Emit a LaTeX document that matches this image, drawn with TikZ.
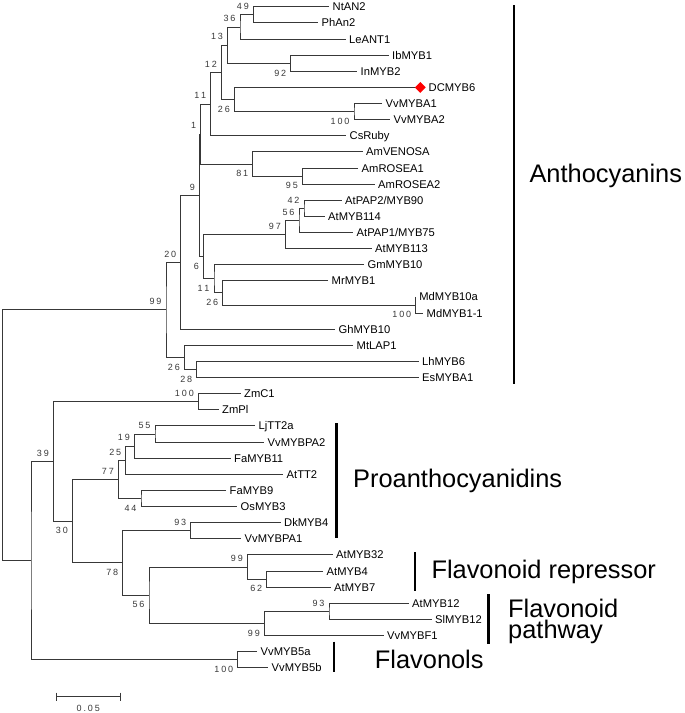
\documentclass[tikz,border=0pt]{standalone}
\usepackage{fontspec}
\setmainfont{Liberation Sans}
\usetikzlibrary{calc,shapes.geometric}
\newcommand\gsp{\kern1.9pt}
\tikzset{
  br/.style={draw=black!78, line width=0.9pt},
  leaf/.style={anchor=west, inner xsep=3.5pt, inner ysep=0pt, text height=8pt, text depth=0pt, font=\fontsize{11.2}{13}\selectfont},
  bsl/.style={anchor=east, inner sep=0pt, text height=6.4pt, text depth=0pt, font=\fontsize{9}{10}\selectfont, text=black!78},
  bar/.style={line width=2.8pt, draw=black},
  grp/.style={anchor=base west, inner sep=0pt, font=\fontsize{25.4}{21}\selectfont},
}
\newcommand\clade[4]{%
  \path ($(#3)!0.5!(#4)$) coordinate (tmpmid) (#2,0) coordinate (xref);
  \coordinate (#1) at (tmpmid -| xref);
  \draw[br] (#3) -| (#1) |- (#4);
}
\newcommand\bu[2]{\node[bsl] (b#1) at ([shift={(-4.3,-8.3)}]#1) {#2};}
\newcommand\bd[2]{\node[bsl] (b#1) at ([shift={(-4.3,9.6)}]#1) {#2};}
\begin{document}
\begin{tikzpicture}[x=1pt,y=-1pt]
\useasboundingbox (0,0) rectangle (685,713);
% leaves
\node[leaf] (L1) at (329,6.8) {NtAN2};
\node[leaf] (L2) at (318,22.92) {PhAn2};
\node[leaf] (L3) at (345.5,39.04) {LeANT1};
\node[leaf] (L4) at (388.5,55.16) {IbMYB1};
\node[leaf] (L5) at (357,71.28) {InMYB2};
\node[diamond, fill=red, inner sep=0pt, minimum width=11pt, minimum height=11pt] (dmark) at (420.3,87.4) {};
\node[leaf, xshift=-1pt] (L6) at (dmark.east) {DCMYB6};
\node[leaf] (L7) at (382,103.52) {VvMYBA1};
\node[leaf] (L8) at (390,119.64) {VvMYBA2};
\node[leaf] (L9) at (346,135.76) {CsRuby};
\node[leaf] (L10) at (362.5,151.88) {AmVENOSA};
\node[leaf] (L11) at (358,168.0) {AmROSEA1};
\node[leaf] (L12) at (374.5,184.12) {AmROSEA2};
\node[leaf] (L13) at (341.5,200.24) {AtPAP2/MYB90};
\node[leaf] (L14) at (324.5,216.36) {AtMYB114};
\node[leaf] (L15) at (353,232.48) {AtPAP1/MYB75};
\node[leaf] (L16) at (371.5,248.6) {AtMYB113};
\node[leaf] (L17) at (364,264.72) {GmMYB10};
\node[leaf] (L18) at (328,280.84) {MrMYB1};
\node[leaf] (L19) at (415.7,296.96) {MdMYB10a};
\node[leaf] (L20) at (423,313.08) {MdMYB1-1};
\node[leaf] (L21) at (335,329.2) {GhMYB10};
\node[leaf] (L22) at (353,345.32) {MtLAP1};
\node[leaf] (L23) at (418.5,361.44) {LhMYB6};
\node[leaf] (L24) at (418.5,377.56) {EsMYBA1};
\node[leaf] (L25) at (240.5,393.68) {ZmC1};
\node[leaf] (L26) at (218.5,409.8) {ZmPl};
\node[leaf] (L27) at (255,425.92) {LjTT2a};
\node[leaf] (L28) at (264,442.04) {VvMYBPA2};
\node[leaf] (L29) at (230.5,458.16) {FaMYB11};
\node[leaf] (L30) at (283,474.28) {AtTT2};
\node[leaf] (L31) at (226,490.4) {FaMYB9};
\node[leaf] (L32) at (237,506.52) {OsMYB3};
\node[leaf] (L33) at (280.5,522.64) {DkMYB4};
\node[leaf] (L34) at (241,538.76) {VvMYBPA1};
\node[leaf] (L35) at (332.5,554.88) {AtMYB32};
\node[leaf] (L36) at (323,571.0) {AtMYB4};
\node[leaf] (L37) at (330.5,587.12) {AtMYB7};
\node[leaf] (L38) at (408.5,603.24) {AtMYB12};
\node[leaf] (L39) at (431.5,619.36) {SlMYB12};
\node[leaf] (L40) at (383.5,635.48) {VvMYBF1};
\node[leaf] (L41) at (257,651.6) {VvMYB5a};
\node[leaf] (L42) at (268,667.72) {VvMYB5b};
% clades
\clade{A49}{253.3}{L1.west}{L2.west}
\clade{A36}{240}{A49}{L3.west}
\clade{A92}{290.7}{L4.west}{L5.west}
\clade{A13}{227.5}{A36}{A92}
\clade{A100a}{354}{L7.west}{L8.west}
\clade{A26}{234.3}{dmark.west}{A100a}
\clade{A12}{221.3}{A13}{A26}
\clade{A11}{210.7}{A12}{L9.west}
\clade{A95}{302.3}{L11.west}{L12.west}
\clade{A81}{252.7}{L10.west}{A95}
\clade{A1}{200.7}{A11}{A81}
\clade{A42}{304}{L13.west}{L14.west}
\clade{A56}{299}{A42}{L15.west}
\clade{A97}{285.3}{A56}{L16.west}
\clade{A100b}{415.7}{L19.west}{L20.west}
\clade{A26c}{222.7}{L18.west}{A100b}
\clade{A11b}{214}{L17.west}{A26c}
\clade{A6}{203.3}{A97}{A11b}
\clade{A9}{199.3}{A1}{A6}
\clade{A20}{180.7}{A9}{L21.west}
\clade{A28}{196.7}{L23.west}{L24.west}
\clade{A26b}{184.3}{L22.west}{A28}
\clade{A99}{166}{A20}{A26b}
\clade{A100c}{198.3}{L25.west}{L26.west}
\clade{A55}{155}{L27.west}{L28.west}
\clade{A19}{134.3}{A55}{L29.west}
\clade{A25}{125.7}{A19}{L30.west}
\clade{A44}{141}{L31.west}{L32.west}
\clade{A77}{118.3}{A25}{A44}
\clade{A93}{190.7}{L33.west}{L34.west}
\clade{A62}{266.7}{L36.west}{L37.west}
\clade{A99b}{247.3}{L35.west}{A62}
\clade{A93b}{329}{L38.west}{L39.west}
\clade{A99c}{264.3}{A93b}{L40.west}
\clade{A56b}{149}{A99b}{A99c}
\clade{A78}{122.7}{A93}{A56b}
\clade{A30}{72.3}{A77}{A78}
\clade{A39}{53.3}{A100c}{A30}
\clade{A100d}{237.7}{L41.west}{L42.west}
\clade{X}{31}{A39}{A100d}
\clade{R}{2.7}{A99}{X}
% bootstrap labels
\bu{A49}{4\gsp9} \bu{A36}{3\gsp6} \bd{A92}{9\gsp2} \bu{A13}{1\gsp3}
\bd{A100a}{1\gsp0\gsp0} \bd{A26}{2\gsp6} \bu{A12}{1\gsp2} \bu{A11}{1\gsp1}
\bd{A95}{9\gsp5} \bd{A81}{8\gsp1} \bu{A1}{1} \bu{A42}{4\gsp2}
\bu{A56}{5\gsp6} \bu{A97}{9\gsp7} \bd{A100b}{1\gsp0\gsp0} \bd{A26c}{2\gsp6}
\bd{A11b}{1\gsp1} \bd{A6}{6} \bu{A9}{9} \bu{A20}{2\gsp0}
\bd{A28}{2\gsp8} \bd{A26b}{2\gsp6} \bu{A99}{9\gsp9} \bu{A100c}{1\gsp0\gsp0}
\bu{A55}{5\gsp5} \bu{A19}{1\gsp9} \bu{A25}{2\gsp5} \bd{A44}{4\gsp4}
\bu{A77}{7\gsp7} \bu{A93}{9\gsp3} \bd{A62}{6\gsp2} \bu{A99b}{9\gsp9}
\bu{A93b}{9\gsp3} \bd{A99c}{9\gsp9} \bd{A56b}{5\gsp6} \bd{A78}{7\gsp8}
\bd{A30}{3\gsp0} \bu{A39}{3\gsp9} \bd{A100d}{1\gsp0\gsp0}
% group bars and labels
\draw[bar] (514,5) -- (514,384);
\node[grp] (gA) at (529.3,182) {Anthocyanins};
\draw[bar] (336.7,423.3) -- (336.7,538.3);
\node[grp] (gP) at (353,487.5) {Proanthocyanidins};
\draw[bar] (415,552.3) -- (415,590.7);
\node[grp] (gR) at (431.3,578.5) {Flavonoid repressor};
\draw[bar] (488.3,594) -- (488.3,644);
\node[grp] (gF) at (508,617.3) {\vtop{\hbox{Flavonoid}\hbox{pathway}}};
\draw[bar] (334,641.7) -- (334,671.7);
\node[grp] (gV) at (374.7,668.3) {Flavonols};
% scale bar
\coordinate (s1) at (56,696.7);
\coordinate (s2) at (120.7,696.7);
\draw[br] (s1) -- (s2);
\draw[br] ([yshift=4pt]s1) -- ([yshift=-4pt]s1);
\draw[br] ([yshift=4pt]s2) -- ([yshift=-4pt]s2);
\node[bsl, anchor=center] (sl) at (88.3,708.3) {0\gsp.\gsp0\gsp5};
\end{tikzpicture}
\end{document}
